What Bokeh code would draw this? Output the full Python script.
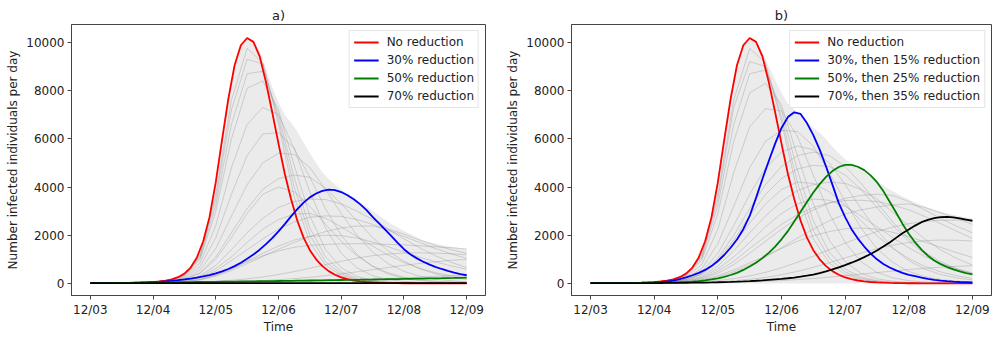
from bokeh.plotting import figure
from bokeh.layouts import row
from bokeh.models import Range1d, FixedTicker, Legend, LegendItem
from bokeh.embed import file_html
from bokeh.resources import INLINE

# ---------------- data ----------------
TICK_POS = [0, 1, 2, 3, 4, 5, 6]
TICK_LABELS = ["12/03", "12/04", "12/05", "12/06", "12/07", "12/08", "12/09"]
Y_TICKS = [0, 2000, 4000, 6000, 8000, 10000]

# sample times (days after 12/03), fine grid for highlighted curves
DAYS_FINE = [0.0, 0.1, 0.2, 0.3, 0.4, 0.5, 0.6, 0.7, 0.8, 0.9,
             1.0, 1.1, 1.2, 1.3, 1.4, 1.5, 1.6, 1.7, 1.8, 1.9,
             2.0, 2.1, 2.2, 2.3, 2.4, 2.5, 2.6, 2.7, 2.8, 2.9,
             3.0, 3.1, 3.2, 3.3, 3.4, 3.5, 3.6, 3.7, 3.8, 3.9,
             4.0, 4.1, 4.2, 4.3, 4.4, 4.5, 4.6, 4.7, 4.8, 4.9,
             5.0, 5.1, 5.2, 5.3, 5.4, 5.5, 5.6, 5.7, 5.8, 5.9,
             6.0]
# coarse grid for the grey simulation runs
DAYS_COARSE = [0.0, 0.25, 0.5, 0.75, 1.0, 1.25, 1.5, 1.75, 2.0, 2.25, 2.5, 2.75,
               3.0, 3.25, 3.5, 3.75, 4.0, 4.25, 4.5, 4.75, 5.0, 5.25, 5.5, 5.75, 6.0]

NO_REDUCTION = [10, 12, 14, 16, 18, 20, 23, 27, 32, 40,
                55, 80, 115, 170, 260, 410, 660, 1080, 1750, 2750,
                4200, 5950, 7650, 9050, 9880, 10180, 10020, 9420, 8350, 7100,
                5800, 4550, 3500, 2600, 1900, 1380, 1000, 720, 510, 360,
                250, 175, 122, 85, 60, 42, 30, 22, 16, 12,
                9, 8, 7, 7, 6, 6, 6, 5, 5, 5,
                5]

# panel a
A_RED30 = [10, 12, 14, 16, 19, 22, 27, 33, 40, 48,
           60, 74, 90, 110, 135, 165, 200, 240, 290, 350,
           420, 500, 600, 720, 860, 1020, 1200, 1400, 1630, 1880,
           2160, 2460, 2780, 3080, 3350, 3570, 3730, 3840, 3890, 3870,
           3790, 3660, 3490, 3290, 3050, 2760, 2500, 2230, 1960, 1680,
           1420, 1210, 1050, 910, 790, 690, 600, 520, 450, 390,
           340]
A_RED50 = [10, 12, 14, 17, 20, 23, 26, 29, 32, 35,
           38, 41, 44, 47, 50, 53, 56, 59, 62, 65,
           68, 71, 74, 77, 81, 84, 88, 91, 95, 98,
           102, 106, 110, 114, 118, 122, 126, 130, 134, 138,
           142, 146, 151, 155, 160, 164, 169, 173, 178, 183,
           188, 193, 198, 203, 208, 213, 218, 224, 229, 235,
           240]
A_RED70 = [10, 10, 11, 11, 12, 12, 13, 13, 14, 14,
           15, 15, 15, 16, 16, 16, 16, 17, 17, 17,
           17, 17, 17, 17, 17, 17, 17, 16, 16, 16,
           16, 16, 16, 15, 15, 15, 15, 15, 14, 14,
           14, 14, 14, 13, 13, 13, 13, 13, 12, 12,
           12, 12, 12, 12, 11, 11, 11, 11, 11, 11,
           10]
A_ENVELOPE = [10, 12, 14, 16, 18, 20, 23, 27, 32, 40,
              55, 80, 115, 170, 260, 410, 660, 1080, 1750, 2750,
              4200, 5950, 7650, 9050, 9880, 10180, 10080, 9650, 8900, 8150,
              7500, 7000, 6680, 6300, 5850, 5400, 5000, 4600, 4330, 4100,
              3900, 3720, 3540, 3360, 3180, 3000, 2820, 2640, 2460, 2320,
              2180, 2050, 1920, 1800, 1720, 1650, 1590, 1540, 1500, 1460,
              1430]
A_RUNS = [
    [10, 15, 20, 30, 53, 138, 360, 1170, 3700, 7600, 9750, 9150, 6600, 3600, 1700, 760, 330, 140, 60, 28, 14, 9, 7, 6, 5],
    [10, 15, 20, 30, 51, 130, 335, 1060, 3250, 6600, 8700, 8800, 7000, 4400, 2300, 1100, 480, 210, 90, 42, 20, 12, 8, 6, 5],
    [10, 15, 20, 30, 52, 135, 350, 1130, 3500, 7200, 9300, 9100, 6800, 4000, 2000, 900, 400, 170, 75, 35, 17, 10, 8, 6, 5],
    [10, 15, 20, 30, 50, 125, 320, 1000, 3000, 6000, 8100, 8400, 7200, 4900, 2800, 1400, 650, 290, 130, 60, 28, 15, 10, 8, 6],
    [10, 14, 19, 28, 47, 115, 280, 850, 2400, 4800, 6600, 7300, 7000, 5600, 3800, 2300, 1250, 650, 320, 160, 80, 40, 22, 14, 10],
    [10, 14, 19, 27, 44, 100, 240, 700, 1900, 3700, 5300, 6200, 6250, 5600, 4400, 3100, 2000, 1200, 700, 390, 210, 115, 65, 38, 24],
    [10, 14, 18, 26, 40, 90, 200, 560, 1450, 2800, 4100, 5000, 5400, 5350, 4800, 3900, 2900, 2000, 1300, 820, 500, 300, 180, 110, 70],
    [10, 13, 18, 25, 38, 80, 170, 450, 1100, 2100, 3100, 3900, 4350, 4500, 4400, 3950, 3300, 2600, 1900, 1350, 920, 610, 400, 260, 170],
    [10, 13, 17, 23, 34, 65, 130, 320, 750, 1400, 2100, 2700, 3150, 3400, 3500, 3480, 3300, 3000, 2650, 2250, 1850, 1480, 1150, 880, 660],
    [10, 12, 16, 21, 30, 55, 100, 230, 520, 950, 1400, 1850, 2250, 2550, 2750, 2800, 2780, 2650, 2450, 2200, 1950, 1700, 1450, 1230, 1040],
    [10, 12, 15, 19, 26, 42, 75, 160, 340, 600, 900, 1150, 1350, 1500, 1580, 1620, 1640, 1650, 1640, 1620, 1600, 1560, 1520, 1480, 1430],
    [10, 12, 14, 17, 21, 28, 38, 55, 85, 130, 190, 270, 370, 490, 630, 780, 920, 1050, 1150, 1220, 1260, 1270, 1260, 1230, 1190],
    [10, 11, 13, 15, 18, 22, 28, 36, 48, 65, 88, 118, 155, 200, 255, 320, 395, 480, 570, 660, 750, 830, 900, 960, 1000],
    [10, 11, 12, 13, 15, 17, 20, 24, 29, 35, 43, 52, 63, 76, 92, 110, 130, 153, 178, 205, 233, 262, 292, 322, 350],
    [10, 13, 17, 24, 36, 75, 160, 420, 1000, 1900, 2900, 3700, 4000, 3800, 3200, 2450, 1750, 1150, 720, 440, 260, 155, 95, 60, 40],
    [10, 13, 17, 23, 33, 62, 120, 280, 620, 1100, 1700, 2250, 2650, 2880, 2900, 2700, 2350, 1950, 1550, 1180, 870, 630, 450, 320, 225],
    [10, 12, 15, 20, 27, 45, 80, 170, 360, 620, 920, 1250, 1550, 1800, 1950, 2000, 1980, 1880, 1720, 1520, 1300, 1090, 900, 730, 590],
    [10, 12, 14, 18, 24, 38, 65, 140, 300, 540, 820, 1120, 1420, 1700, 1950, 2150, 2300, 2380, 2380, 2250, 2050, 1800, 1580, 1400, 1250],
]

# panel b
B_RED30 = [10, 11, 12, 14, 16, 18, 21, 25, 30, 37,
           46, 58, 80, 120, 175, 250, 340, 440, 560, 720,
           930, 1180, 1480, 1820, 2250, 2800, 3550, 4330, 5080, 5800,
           6450, 6900, 7100, 7030, 6650, 6150, 5550, 4850, 4100, 3330,
           2750, 2250, 1860, 1530, 1240, 1000, 810, 660, 540, 440,
           360, 300, 240, 190, 150, 120, 95, 75, 60, 50,
           40]
B_RED50 = [10, 11, 12, 13, 14, 15, 17, 19, 21, 24,
           27, 31, 36, 43, 52, 63, 78, 98, 125, 165,
           215, 275, 350, 440, 560, 700, 860, 1050, 1270, 1530,
           1830, 2170, 2570, 2970, 3380, 3770, 4120, 4420, 4660, 4830,
           4920, 4920, 4840, 4700, 4480, 4200, 3830, 3390, 2940, 2480,
           2060, 1700, 1400, 1150, 950, 800, 680, 580, 500, 430,
           375]
B_RED70 = [10, 10, 11, 11, 12, 12, 13, 14, 15, 16,
           17, 18, 20, 22, 24, 27, 30, 34, 38, 43,
           49, 56, 64, 73, 84, 97, 112, 130, 150, 170,
           190, 215, 245, 280, 320, 370, 430, 500, 580, 665,
           760, 860, 970, 1090, 1220, 1370, 1530, 1700, 1890, 2080,
           2240, 2400, 2540, 2640, 2710, 2750, 2760, 2740, 2700, 2650,
           2600]
B_ENVELOPE = [10, 12, 14, 16, 18, 20, 23, 27, 32, 40,
              55, 80, 115, 170, 260, 410, 660, 1080, 1750, 2750,
              4200, 5950, 7650, 9050, 9880, 10180, 10080, 9600, 9000, 8450,
              7900, 7450, 7200, 6950, 6700, 6450, 6250, 5980, 5680, 5400,
              5150, 4980, 4820, 4620, 4420, 4230, 4060, 3900, 3750, 3610,
              3480, 3360, 3250, 3150, 3060, 2980, 2910, 2850, 2790, 2740,
              2700]
B_RUNS = [
    [10, 15, 20, 30, 53, 138, 360, 1170, 3700, 7600, 9750, 9150, 6700, 3800, 1850, 850, 380, 160, 70, 32, 15, 9, 7, 6, 5],
    [10, 15, 20, 30, 51, 130, 335, 1060, 3250, 6600, 8700, 8850, 7200, 4700, 2600, 1300, 600, 270, 115, 52, 24, 13, 8, 6, 5],
    [10, 15, 20, 30, 52, 135, 350, 1130, 3500, 7300, 9200, 9000, 6900, 4200, 2200, 1050, 480, 210, 95, 45, 22, 12, 8, 6, 5],
    [10, 15, 20, 29, 50, 125, 320, 980, 2900, 5900, 7900, 8300, 7400, 5300, 3300, 1800, 900, 420, 190, 90, 42, 22, 13, 9, 7],
    [10, 14, 19, 28, 46, 112, 270, 800, 2250, 4600, 6500, 7250, 7150, 6100, 4500, 2900, 1700, 900, 460, 230, 115, 60, 33, 20, 13],
    [10, 14, 18, 27, 42, 95, 220, 620, 1650, 3200, 4800, 5900, 6350, 6300, 5700, 4600, 3400, 2300, 1450, 870, 500, 280, 160, 95, 58],
    [10, 13, 18, 25, 39, 85, 185, 500, 1250, 2400, 3700, 4800, 5450, 5700, 5550, 5000, 4100, 3100, 2200, 1480, 950, 600, 370, 230, 145],
    [10, 13, 17, 24, 36, 74, 155, 400, 950, 1800, 2800, 3700, 4350, 4750, 4900, 4850, 4500, 3900, 3150, 2400, 1750, 1220, 830, 560, 370],
    [10, 13, 16, 22, 32, 62, 125, 310, 720, 1350, 2100, 2800, 3400, 3850, 4100, 4200, 4150, 3900, 3500, 2950, 2380, 1850, 1400, 1040, 760],
    [10, 12, 15, 20, 28, 50, 95, 220, 500, 920, 1450, 1950, 2450, 2850, 3150, 3350, 3440, 3450, 3400, 3250, 3050, 2780, 2480, 2170, 1870],
    [10, 12, 14, 18, 24, 38, 65, 130, 270, 480, 760, 1100, 1480, 1880, 2250, 2600, 2880, 3050, 3170, 3260, 3300, 3150, 2930, 2700, 2450],
    [10, 11, 13, 16, 20, 28, 42, 70, 120, 200, 310, 460, 650, 880, 1130, 1400, 1670, 1920, 2150, 2340, 2480, 2570, 2620, 2630, 2600],
    [10, 11, 12, 14, 17, 22, 30, 45, 70, 110, 170, 250, 360, 500, 670, 860, 1060, 1260, 1440, 1590, 1700, 1770, 1800, 1790, 1760],
    [10, 12, 15, 20, 29, 55, 110, 260, 600, 1100, 1700, 2350, 2900, 3300, 3500, 3450, 3200, 2800, 2350, 1900, 1480, 1120, 830, 610, 440],
    [10, 12, 14, 18, 25, 40, 70, 150, 320, 560, 850, 1150, 1450, 1750, 1980, 2150, 2270, 2300, 2250, 2120, 1940, 1720, 1500, 1280, 1080],
    [10, 13, 17, 24, 36, 72, 150, 380, 880, 1650, 2500, 3300, 3900, 4200, 4150, 3800, 3250, 2600, 1980, 1450, 1030, 710, 480, 320, 210],
    [10, 11, 12, 13, 15, 18, 22, 28, 37, 50, 68, 92, 122, 160, 205, 260, 320, 385, 450, 515, 575, 630, 675, 710, 735],
    [10, 13, 17, 24, 37, 78, 165, 430, 1050, 2000, 3100, 4100, 4850, 5300, 5450, 5300, 4850, 4150, 3350, 2550, 1850, 1300, 900, 610, 410],
    [10, 12, 15, 19, 27, 46, 85, 190, 420, 780, 1250, 1750, 2250, 2700, 3050, 3330, 3530, 3650, 3700, 3650, 3400, 3050, 2700, 2380, 2100],
]

A_LABELS = ["No reduction", "30% reduction", "50% reduction", "70% reduction"]
B_LABELS = ["No reduction", "30%, then 15% reduction",
            "50%, then 25% reduction", "70%, then 35% reduction"]
COLORS = ["#ff0000", "#0000ff", "#008000", "#000000"]

FONT = "DejaVu Sans"
TEXT = "#222222"


def make_panel(title, series, labels, runs, envelope, b_right, b_bottom):
    p = figure(width=500, height=341, output_backend="svg", toolbar_location=None,
               x_range=Range1d(-0.3, 6.3), y_range=Range1d(-500, 10740),
               min_border_left=71, min_border_right=b_right,
               min_border_top=24, min_border_bottom=b_bottom,
               title=title)
    p.title.align = "center"
    p.title.text_font = FONT
    p.title.text_font_size = "13px"
    p.title.text_font_style = "normal"
    p.title.text_color = TEXT
    p.title.standoff = 4

    p.xgrid.visible = False
    p.ygrid.visible = False
    p.outline_line_color = "#444444"
    p.outline_line_width = 1
    p.background_fill_color = "white"
    p.border_fill_color = "white"

    p.xaxis.ticker = FixedTicker(ticks=TICK_POS)
    p.xaxis.major_label_overrides = {t: l for t, l in zip(TICK_POS, TICK_LABELS)}
    p.yaxis.ticker = FixedTicker(ticks=Y_TICKS)
    p.yaxis.formatter.use_scientific = False
    p.xaxis.axis_label = "Time"
    p.yaxis.axis_label = "Number infected individuals per day"
    for ax in (p.xaxis, p.yaxis):
        ax.axis_line_color = "#444444"
        ax.major_tick_line_color = "#444444"
        ax.major_tick_out = 4
        ax.major_tick_in = 0
        ax.minor_tick_line_color = None
        ax.major_label_standoff = 3
        ax.major_label_text_font = FONT
        ax.major_label_text_font_size = "12px"
        ax.major_label_text_color = TEXT
        ax.axis_label_text_font = FONT
        ax.axis_label_text_font_size = "12px"
        ax.axis_label_text_font_style = "normal"
        ax.axis_label_text_color = TEXT
    p.xaxis.axis_label_standoff = 0
    p.yaxis.axis_label_standoff = 3

    # haze of all simulation runs
    p.varea(x=DAYS_FINE, y1=0, y2=envelope, fill_color="#d0d0d0", fill_alpha=0.42)
    p.multi_line(xs=[DAYS_COARSE] * len(runs), ys=runs,
                 line_color="#808080", line_alpha=0.3, line_width=1)

    items = []
    for ys, lab, col in zip(series, labels, COLORS):
        r = p.line(DAYS_FINE, ys, line_color=col, line_width=1.8)
        items.append(LegendItem(label=lab, renderers=[r]))

    leg = Legend(items=items, location="top_right")
    leg.margin = 6
    leg.padding = 4
    leg.spacing = 4
    leg.glyph_width = 25
    leg.glyph_height = 14
    leg.label_height = 14
    leg.label_standoff = 8
    leg.label_text_font = FONT
    leg.label_text_font_size = "12px"
    leg.label_text_color = TEXT
    leg.border_line_color = "#cccccc"
    leg.border_line_width = 1
    leg.background_fill_alpha = 0.85
    p.add_layout(leg)
    return p


pa = make_panel("a)", [NO_REDUCTION, A_RED30, A_RED50, A_RED70], A_LABELS,
                A_RUNS, A_ENVELOPE, 15, 46)
pb = make_panel("b)", [NO_REDUCTION, B_RED30, B_RED50, B_RED70], B_LABELS,
                B_RUNS, B_ENVELOPE, 9, 43)

layout = row(pa, pb)
open("out.html", "w").write(file_html(layout, INLINE))
